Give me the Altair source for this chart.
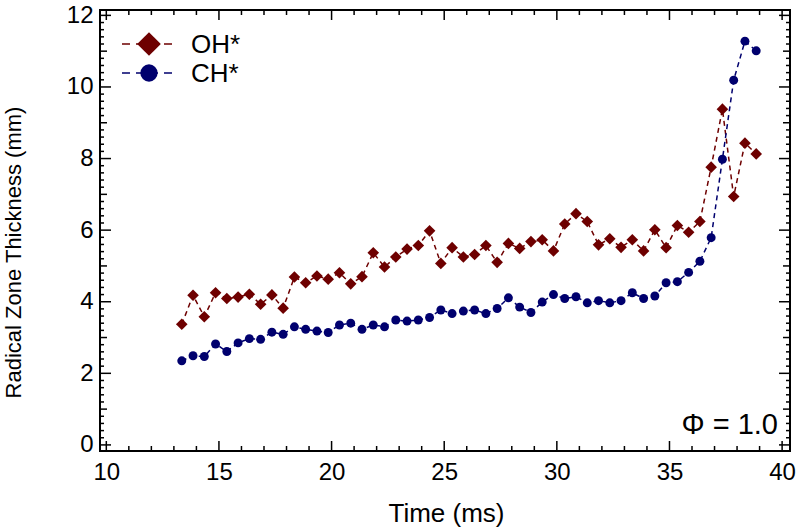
import altair as alt
import pandas as pd

# ---------------- data ----------------
time_ms = [13.35, 13.85, 14.35, 14.85, 15.35, 15.85, 16.35, 16.85, 17.35, 17.85,
           18.35, 18.85, 19.35, 19.85, 20.35, 20.85, 21.35, 21.85, 22.35, 22.85,
           23.35, 23.85, 24.35, 24.85, 25.35, 25.85, 26.35, 26.85, 27.35, 27.85,
           28.35, 28.85, 29.35, 29.85, 30.35, 30.85, 31.35, 31.85, 32.35, 32.85,
           33.35, 33.85, 34.35, 34.85, 35.35, 35.85, 36.35, 36.85, 37.35, 37.85,
           38.35, 38.85]

oh_values = [3.37, 4.18, 3.58, 4.25, 4.09, 4.13, 4.21, 3.93, 4.19, 3.82,
             4.69, 4.53, 4.72, 4.63, 4.81, 4.50, 4.70, 5.37, 4.97, 5.25,
             5.47, 5.57, 5.98, 5.07, 5.51, 5.25, 5.32, 5.57, 5.10, 5.63,
             5.49, 5.68, 5.73, 5.42, 6.17, 6.46, 6.24, 5.59, 5.76, 5.52,
             5.73, 5.42, 6.01, 5.51, 6.13, 5.94, 6.24, 7.76, 9.38, 6.94,
             8.43, 8.13]

ch_values = [2.35, 2.49, 2.47, 2.82, 2.61, 2.85, 2.97, 2.95, 3.15, 3.09,
             3.30, 3.23, 3.18, 3.14, 3.35, 3.40, 3.23, 3.35, 3.30, 3.49,
             3.46, 3.49, 3.56, 3.77, 3.67, 3.74, 3.77, 3.67, 3.81, 4.11,
             3.85, 3.70, 3.99, 4.20, 4.09, 4.14, 3.97, 4.03, 3.97, 4.03,
             4.25, 4.09, 4.16, 4.53, 4.56, 4.82, 5.13, 5.79, 7.98, 10.19,
             11.28, 11.01]

series_names = ["OH*", "CH*"]
annotation = "\u03a6 = 1.0"

x_major = [10, 15, 20, 25, 30, 35, 40]
x_minor = [v for v in range(11, 40) if v % 5 != 0]
y_major = [0, 2, 4, 6, 8, 10, 12]
y_medium = [1, 3, 5, 7, 9, 11]
y_minor = [i / 5 for i in range(0, 61) if i % 5 != 0]

# ---------------- styling ----------------
OH_COLOR = "#6e0000"
CH_COLOR = "#00006e"
FONT = "Liberation Sans"
W, H = 690, 441

df = pd.DataFrame({
    "time": time_ms * 2,
    "value": oh_values + ch_values,
    "series": [series_names[0]] * len(time_ms) + [series_names[1]] * len(time_ms),
})

x_scale = alt.Scale(domain=[9.72, 40.35], nice=False, zero=False)
y_scale = alt.Scale(domain=[-0.17, 12.15], nice=False, zero=False)
color_scale = alt.Scale(domain=series_names, range=[OH_COLOR, CH_COLOR])

x_axis = alt.Axis(values=x_major, ticks=False, domain=False, grid=False,
                  labelFontSize=24, labelPadding=9, labelColor="black",
                  title="Time (ms)", titleFontSize=26, titleFontWeight="normal",
                  titleColor="black", titleX=W / 2 + 1, titleY=62, titleBaseline="middle")
y_axis = alt.Axis(values=y_major, ticks=False, domain=False, grid=False,
                  labelFontSize=24, labelPadding=7, labelColor="black",
                  title="Radical Zone Thickness (mm)", titleFontSize=22,
                  titleFontWeight="normal", titleColor="black",
                  titleX=-87, titleY=242, titleAngle=-90, titleBaseline="middle",
                  titleAlign="center")

X = alt.X("time:Q", scale=x_scale, axis=x_axis)
Y = alt.Y("value:Q", scale=y_scale, axis=y_axis)

lines = alt.Chart(df).mark_line(strokeDash=[5, 4], strokeWidth=1.5).encode(
    x=X, y=Y,
    color=alt.Color("series:N", scale=color_scale, legend=None),
)

ch_points = alt.Chart(df).transform_filter(
    alt.datum.series == series_names[1]
).mark_point(filled=True, opacity=1, shape="circle", size=80, color=CH_COLOR).encode(
    x=X, y=Y)
oh_points = alt.Chart(df).transform_filter(
    alt.datum.series == series_names[0]
).mark_point(filled=True, opacity=1, shape="diamond", size=135, color=OH_COLOR).encode(
    x=X, y=Y)


def xticks(vals, length):
    d = pd.DataFrame({"time": vals})
    bottom = alt.Chart(d).mark_rule(color="black", strokeWidth=1.5).encode(
        x=X, y=alt.value(H), y2=alt.value(H - length))
    top = alt.Chart(d).mark_rule(color="black", strokeWidth=1.5).encode(
        x=X, y=alt.value(0), y2=alt.value(length))
    return [bottom, top]


def yticks(vals, length):
    d = pd.DataFrame({"value": vals})
    left = alt.Chart(d).mark_rule(color="black", strokeWidth=1.5).encode(
        y=Y, x=alt.value(0), x2=alt.value(length))
    right = alt.Chart(d).mark_rule(color="black", strokeWidth=1.5).encode(
        y=Y, x=alt.value(W), x2=alt.value(W - length))
    return [left, right]


tick_layers = (xticks(x_major, 10) + xticks(x_minor, 5)
               + yticks(y_major, 11) + yticks(y_medium, 7) + yticks(y_minor, 4))

# ---------------- legend (manual) ----------------
def legend_item(name, color, shape, size, ypix):
    d = pd.DataFrame({"label": [name]})
    seg = alt.Chart(d).mark_rule(color=color, strokeWidth=1.5, strokeDash=[8, 6]).encode(
        x=alt.value(22), x2=alt.value(78), y=alt.value(ypix))
    sym = alt.Chart(d).mark_point(filled=True, opacity=1, shape=shape, size=size,
                                  color=color).encode(x=alt.value(49), y=alt.value(ypix))
    txt = alt.Chart(d).mark_text(align="left", baseline="middle", fontSize=26,
                                 font=FONT, color="black").encode(
        x=alt.value(91), y=alt.value(ypix + 1), text="label:N")
    return [seg, sym, txt]


legend_layers = (legend_item(series_names[0], OH_COLOR, "diamond", 560, 34)
                 + legend_item(series_names[1], CH_COLOR, "circle", 300, 63))

phi = alt.Chart(pd.DataFrame({"t": [annotation]})).mark_text(
    align="right", baseline="alphabetic", fontSize=29, font=FONT, color="black"
).encode(x=alt.value(678), y=alt.value(424), text="t:N")

chart = alt.layer(
    lines, *tick_layers, ch_points, oh_points, *legend_layers, phi
).properties(
    width=W, height=H,
    padding={"left": 100, "top": 10, "right": 9, "bottom": 76},
    autosize=alt.AutoSizeParams(type="none"),
).configure(font=FONT).configure_view(stroke="black", strokeWidth=2)

chart.save("out.html", embed_options={"renderer": "svg", "actions": False})
